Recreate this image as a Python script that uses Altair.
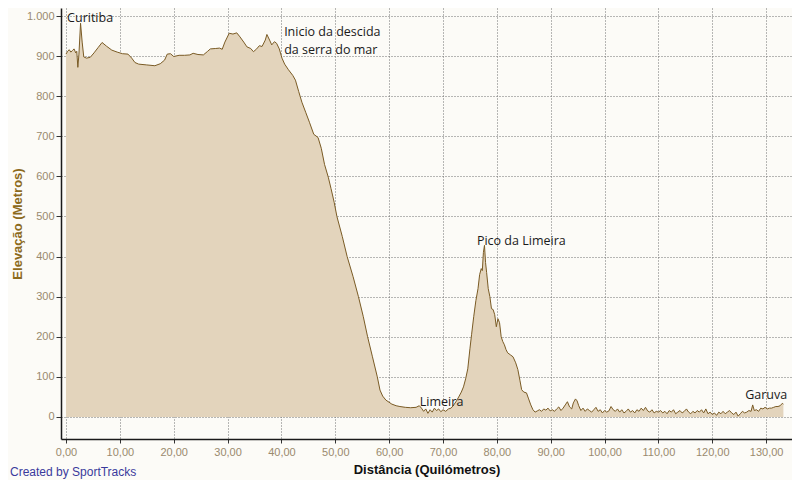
import altair as alt
import pandas as pd

km = [0.0, 0.3, 0.6, 0.9, 1.2, 1.5, 1.8, 2.0, 2.2, 2.4, 2.7, 3.0, 3.3, 3.8, 4.5, 5.2, 6.0, 6.7, 7.5, 8.5,
      9.5, 10.5, 11.5, 12.2, 12.8, 13.5, 15.0, 16.5, 17.5, 18.3, 18.8, 19.4, 20.0, 21.0, 22.0, 23.0, 23.6, 24.5, 25.5, 26.3,
      26.8, 27.8, 28.5, 29.0, 29.5, 30.3, 31.0, 31.7, 32.3, 33.0, 33.6, 34.3, 34.8, 35.4, 35.9, 36.4, 37.0, 37.3, 37.8, 38.2,
      38.7, 39.1, 39.6, 40.1, 40.6, 41.3, 42.1, 42.6, 43.2, 43.8, 44.5, 45.2, 46.0, 46.8, 47.4, 48.0, 48.7, 49.2, 49.8, 50.3,
      51.3, 52.2, 53.3, 54.3, 55.2, 56.0, 56.9, 57.8, 58.3, 58.8, 59.4, 60.5, 61.3, 62.0, 63.0, 64.0, 65.0, 65.6, 66.0, 66.4,
      66.8, 67.2, 67.6, 68.0, 68.4, 68.8, 69.2, 69.6, 70.0, 70.5, 71.0, 71.5, 72.0, 72.5, 73.0, 73.4, 73.8, 74.2, 74.6, 75.0,
      75.3, 75.7, 76.1, 76.5, 76.8, 77.1, 77.3, 77.5, 77.7, 77.9, 78.1, 78.4, 78.7, 79.0, 79.3, 79.6, 79.9, 80.2, 80.5, 80.8,
      81.1, 81.4, 81.7, 82.0, 82.5, 83.0, 83.5, 83.9, 84.3, 84.6, 85.0, 85.5, 85.9, 86.3, 86.7, 87.1, 87.5, 87.9, 88.3, 88.7,
      89.1, 89.5, 89.9, 90.3, 90.7, 91.1, 91.5, 91.9, 92.3, 92.7, 93.1, 93.5, 93.9, 94.2, 94.6, 94.9, 95.2, 95.6, 96.0, 96.4,
      96.8, 97.2, 97.6, 98.0, 98.4, 98.8, 99.2, 99.6, 100.0, 100.4, 100.8, 101.2, 101.6, 102.0, 102.4, 102.8, 103.2, 103.6, 104.0, 104.4,
      104.8, 105.2, 105.6, 106.0, 106.4, 106.8, 107.2, 107.6, 108.0, 108.4, 108.8, 109.2, 109.6, 110.0, 110.4, 110.8, 111.2, 111.6, 112.0, 112.4,
      112.8, 113.2, 113.6, 114.0, 114.4, 114.8, 115.2, 115.6, 116.0, 116.4, 116.8, 117.2, 117.6, 118.0, 118.4, 118.8, 119.2, 119.6, 120.0, 120.4,
      120.8, 121.2, 121.6, 122.0, 122.4, 122.8, 123.2, 123.6, 124.0, 124.4, 124.8, 125.2, 125.6, 126.0, 126.4, 126.8, 127.2, 127.5, 127.8, 128.2,
      128.6, 129.0, 129.4, 129.8, 130.2, 130.6, 131.0, 131.4, 131.8, 132.2, 132.6, 133.0, 133.2]

elev = [905, 912, 916, 910, 914, 918, 908, 912, 872, 905, 982, 935, 898, 895, 897, 908, 922, 934, 925, 915,
        910, 906, 905, 895, 884, 880, 878, 876, 881, 890, 905, 906, 899, 902, 902, 903, 907, 904, 903, 912,
        918, 919, 920, 917, 935, 957, 955, 958, 948, 935, 923, 919, 911, 918, 926, 924, 940, 954, 940, 928,
        936, 932, 918, 895, 880, 866, 852, 840, 812, 785, 760, 735, 705, 697, 670, 630, 598, 570, 535, 500,
        450, 400, 350, 300, 250, 200, 150, 100, 67, 52, 42, 32, 28, 26, 24, 23, 24, 28, 22, 14,
        20, 9, 18, 12, 22, 16, 20, 13, 18, 14, 20, 22, 30, 40, 52, 62, 75, 95, 120, 170,
        205, 250, 290, 320, 355, 370, 365, 410, 428, 385, 360, 320, 300, 270, 268, 255, 225, 245, 235, 200,
        188, 180, 168, 160, 155, 150, 135, 118, 90, 68, 62, 60, 45, 30, 18, 12, 15, 18, 14, 20,
        17, 22, 15, 18, 14, 20, 25, 16, 22, 30, 38, 25, 20, 35, 45, 40, 28, 16, 22, 14,
        20, 16, 12, 18, 24, 14, 18, 10, 16, 12, 15, 26, 18, 14, 20, 12, 18, 10, 14, 20,
        12, 16, 10, 18, 14, 22, 16, 24, 15, 12, 18, 10, 14, 12, 16, 10, 14, 8, 16, 12,
        18, 8, 12, 16, 10, 14, 20, 12, 8, 14, 10, 16, 12, 18, 10, 20, 8, 12, 6, 10,
        4, 12, 8, 14, 8, 12, 16, 10, 6, 12, 2, 8, 14, 10, 12, 16, 14, 30, 16, 18,
        14, 22, 20, 24, 20, 22, 22, 24, 26, 26, 28, 34, 32]

label_text = ["Curitiba", "Inicio da descida", "da serra do mar", "Pico da Limeira", "Limeira", "Garuva"]
label_km = [0.2, 40.5, 40.5, 76.3, 65.7, 126.1]
label_elev = [995, 960, 915, 439, 37, 55]

y_ticks = [0, 100, 200, 300, 400, 500, 600, 700, 800, 900, 1000]
x_ticks = [0, 10, 20, 30, 40, 50, 60, 70, 80, 90, 100, 110, 120, 130]

df = pd.DataFrame({"km": km, "elev": elev})
lab = pd.DataFrame({"t": label_text, "km": label_km, "elev": label_elev})
credit = pd.DataFrame({"t": ["Created by SportTracks"]})

xs = alt.Scale(domain=[-0.93, 134.8], nice=False, zero=False)
ys = alt.Scale(domain=[-55, 1020], nice=False, zero=False)

area = alt.Chart(df).mark_area(
    color="#e3d4bc", opacity=1,
    line={"color": "#7a5b25", "strokeWidth": 1},
).encode(
    x=alt.X("km:Q", scale=xs, axis=alt.Axis(
        values=x_ticks,
        labelExpr="replace(format(datum.value, '.2f'), '.', ',')",
        title="Distância (Quilómetros)",
        titleColor="#111111", titleFontWeight="bold", titleFontSize=13,
        titleFont="Liberation Sans", titlePadding=6,
        labelPadding=3, tickSize=4)),
    y=alt.Y("elev:Q", scale=ys, axis=alt.Axis(
        values=y_ticks,
        labelExpr="replace(datum.label, ',', '.')",
        title="Elevação (Metros)",
        titleColor="#8c6a1c", titleFontWeight="bold", titleFontSize=13,
        titleFont="Liberation Sans", titlePadding=2,
        labelPadding=2, tickSize=5)),
    y2=alt.datum(0),
)

texts = alt.Chart(lab).mark_text(
    align="left", baseline="middle", font="Open Sans", fontSize=12.5, color="#1a1a1a"
).encode(
    x=alt.X("km:Q", scale=xs),
    y=alt.Y("elev:Q", scale=ys),
    text="t:N",
)

cred = alt.Chart(credit).mark_text(
    align="left", baseline="middle", font="Liberation Sans", fontSize=12, color="#3a3a9c"
).encode(
    x=alt.value(-51), y=alt.value(464), text="t:N"
)

chart = alt.layer(area, texts, cred).properties(
    width=731, height=431,
    autosize=alt.AutoSizeParams(type="none"),
    padding={"left": 53, "top": 0, "right": 0, "bottom": 41},
    background="#fcfbf7",
).configure_view(
    stroke=None, fill="#fcfbf7"
).configure_axis(
    grid=True, gridColor="#707070", gridDash=[1, 2], gridOpacity=1, gridWidth=1,
    domainColor="#1a1a1a", domainWidth=1.5, tickColor="#333333",
    labelColor="#9a8a6e", labelFont="Liberation Sans", labelFontSize=11,
    zindex=1,
)

chart.save("out.html", embed_options={"renderer": "svg", "actions": False})
